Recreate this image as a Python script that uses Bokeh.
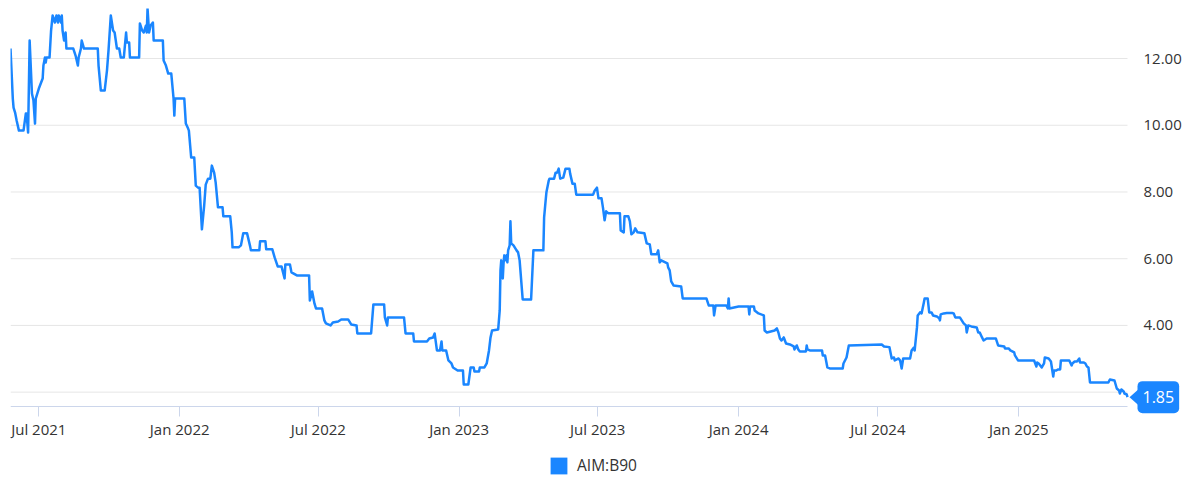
import pandas as pd
from bokeh.plotting import figure
from bokeh.core.properties import value
from bokeh.models import (Range1d, FixedTicker, DatetimeTickFormatter,
                          Legend, LegendItem, Label, PolyAnnotation, ColumnDataSource)
from bokeh.embed import file_html
from bokeh.resources import INLINE

series_name = "AIM:B90"

dates = [
    "2021-05-25", "2021-05-28", "2021-05-29", "2021-05-31", "2021-06-02", "2021-06-05", "2021-06-11", "2021-06-14",
    "2021-06-15", "2021-06-17", "2021-06-19", "2021-06-22", "2021-06-24", "2021-06-26", "2021-06-27", "2021-07-01",
    "2021-07-04", "2021-07-06", "2021-07-07", "2021-07-09", "2021-07-10", "2021-07-11", "2021-07-15", "2021-07-17",
    "2021-07-19", "2021-07-22", "2021-07-24", "2021-07-26", "2021-07-27", "2021-07-30", "2021-07-31", "2021-08-01",
    "2021-08-03", "2021-08-05", "2021-08-06", "2021-08-15", "2021-08-18", "2021-08-21", "2021-08-22", "2021-08-25",
    "2021-08-26", "2021-08-29", "2021-09-16", "2021-09-17", "2021-09-20", "2021-09-25", "2021-09-28", "2021-09-30",
    "2021-10-03", "2021-10-06", "2021-10-08", "2021-10-11", "2021-10-14", "2021-10-16", "2021-10-20", "2021-10-23",
    "2021-10-24", "2021-10-27", "2021-10-28", "2021-11-09", "2021-11-10", "2021-11-13", "2021-11-15", "2021-11-18",
    "2021-11-19", "2021-11-20", "2021-11-22", "2021-11-24", "2021-11-27", "2021-11-28", "2021-12-10", "2021-12-11",
    "2021-12-14", "2021-12-17", "2021-12-21", "2021-12-24", "2021-12-25", "2021-12-26", "2022-01-07", "2022-01-09",
    "2022-01-12", "2022-01-13", "2022-01-16", "2022-01-20", "2022-01-22", "2022-01-25", "2022-01-27", "2022-01-30",
    "2022-02-02", "2022-02-04", "2022-02-07", "2022-02-10", "2022-02-12", "2022-02-15", "2022-02-17", "2022-02-20",
    "2022-02-26", "2022-02-27", "2022-03-08", "2022-03-10", "2022-03-11", "2022-03-19", "2022-03-22", "2022-03-25",
    "2022-03-30", "2022-04-03", "2022-04-04", "2022-04-15", "2022-04-16", "2022-04-23", "2022-04-24", "2022-05-02",
    "2022-05-05", "2022-05-09", "2022-05-14", "2022-05-18", "2022-05-19", "2022-05-25", "2022-05-27", "2022-06-03",
    "2022-06-19", "2022-06-20", "2022-06-23", "2022-06-26", "2022-06-28", "2022-07-06", "2022-07-09", "2022-07-11",
    "2022-07-17", "2022-07-20", "2022-07-27", "2022-07-31", "2022-08-09", "2022-08-13", "2022-08-20", "2022-08-21",
    "2022-09-08", "2022-09-11", "2022-09-25", "2022-09-26", "2022-09-29", "2022-09-30", "2022-10-21", "2022-10-23",
    "2022-11-02", "2022-11-03", "2022-11-20", "2022-11-23", "2022-11-28", "2022-11-30", "2022-12-03", "2022-12-07",
    "2022-12-09", "2022-12-10", "2022-12-15", "2022-12-18", "2022-12-22", "2022-12-24", "2022-12-30", "2023-01-06",
    "2023-01-07", "2023-01-13", "2023-01-16", "2023-01-20", "2023-01-21", "2023-01-27", "2023-01-28", "2023-02-03",
    "2023-02-06", "2023-02-09", "2023-02-11", "2023-02-13", "2023-02-21", "2023-02-23", "2023-02-24", "2023-02-25",
    "2023-02-27", "2023-02-28", "2023-03-01", "2023-03-02", "2023-03-04", "2023-03-05", "2023-03-06", "2023-03-08",
    "2023-03-09", "2023-03-10", "2023-03-13", "2023-03-17", "2023-03-19", "2023-03-21", "2023-03-25", "2023-04-05",
    "2023-04-08", "2023-04-21", "2023-04-22", "2023-04-24", "2023-04-25", "2023-04-28", "2023-04-29", "2023-05-05",
    "2023-05-07", "2023-05-09", "2023-05-11", "2023-05-13", "2023-05-17", "2023-05-20", "2023-05-25", "2023-05-26",
    "2023-05-29", "2023-06-01", "2023-06-03", "2023-06-25", "2023-06-27", "2023-06-30", "2023-07-02", "2023-07-06",
    "2023-07-08", "2023-07-10", "2023-07-12", "2023-07-15", "2023-07-30", "2023-07-31", "2023-08-04", "2023-08-05",
    "2023-08-10", "2023-08-12", "2023-08-14", "2023-08-17", "2023-08-19", "2023-08-22", "2023-08-31", "2023-09-03",
    "2023-09-07", "2023-09-09", "2023-09-16", "2023-09-18", "2023-09-20", "2023-09-22", "2023-09-30", "2023-10-01",
    "2023-10-03", "2023-10-05", "2023-10-08", "2023-10-18", "2023-10-20", "2023-11-20", "2023-11-23", "2023-11-29",
    "2023-11-30", "2023-12-02", "2023-12-16", "2023-12-18", "2023-12-19", "2023-12-20", "2024-01-01", "2024-01-14",
    "2024-01-15", "2024-01-16", "2024-01-21", "2024-01-22", "2024-01-27", "2024-02-03", "2024-02-04", "2024-02-07",
    "2024-02-17", "2024-02-20", "2024-02-22", "2024-02-24", "2024-02-26", "2024-02-29", "2024-03-03", "2024-03-08",
    "2024-03-13", "2024-03-14", "2024-03-17", "2024-03-19", "2024-03-21", "2024-03-29", "2024-03-30", "2024-03-31",
    "2024-04-03", "2024-04-19", "2024-04-20", "2024-04-23", "2024-04-26", "2024-04-29", "2024-05-16", "2024-05-17",
    "2024-05-21", "2024-05-24", "2024-07-06", "2024-07-09", "2024-07-16", "2024-07-19", "2024-07-22", "2024-07-23",
    "2024-07-28", "2024-07-30", "2024-08-01", "2024-08-03", "2024-08-12", "2024-08-14", "2024-08-17", "2024-08-18",
    "2024-08-21", "2024-08-22", "2024-08-25", "2024-08-27", "2024-08-30", "2024-08-31", "2024-09-04", "2024-09-06",
    "2024-09-09", "2024-09-11", "2024-09-16", "2024-09-19", "2024-09-20", "2024-09-21", "2024-09-25", "2024-09-29",
    "2024-10-06", "2024-10-08", "2024-10-10", "2024-10-16", "2024-10-21", "2024-10-24", "2024-10-25", "2024-10-27",
    "2024-10-31", "2024-11-07", "2024-11-09", "2024-11-11", "2024-11-14", "2024-11-16", "2024-11-20", "2024-12-02",
    "2024-12-05", "2024-12-13", "2024-12-14", "2024-12-19", "2024-12-21", "2024-12-26", "2024-12-27", "2024-12-31",
    "2025-01-21", "2025-01-22", "2025-01-24", "2025-01-25", "2025-01-27", "2025-01-29", "2025-01-31", "2025-02-03",
    "2025-02-04", "2025-02-09", "2025-02-12", "2025-02-15", "2025-02-16", "2025-02-19", "2025-02-21", "2025-02-24",
    "2025-02-25", "2025-03-08", "2025-03-11", "2025-03-12", "2025-03-15", "2025-03-18", "2025-03-21", "2025-03-22",
    "2025-03-27", "2025-03-29", "2025-03-31", "2025-04-02", "2025-04-04", "2025-04-28", "2025-04-30", "2025-05-06",
    "2025-05-09", "2025-05-12", "2025-05-13", "2025-05-15", "2025-05-18", "2025-05-19", "2025-05-22", "2025-05-23",
]

prices = [
    12.30, 10.80, 10.53, 10.38, 10.14, 9.84, 9.84, 10.35,
    10.35, 9.78, 12.54, 10.95, 10.74, 10.05, 10.80, 11.10,
    11.28, 11.40, 11.79, 12.03, 11.88, 12.03, 12.03, 12.84,
    13.29, 13.08, 13.29, 13.08, 13.29, 13.08, 13.29, 12.84,
    12.54, 12.78, 12.30, 12.30, 12.09, 11.79, 12.03, 12.30,
    12.54, 12.30, 12.30, 11.79, 11.04, 11.04, 11.64, 12.24,
    13.29, 12.84, 12.78, 12.30, 12.30, 12.03, 12.03, 12.78,
    12.48, 12.48, 12.03, 12.03, 13.05, 12.84, 12.78, 12.99,
    12.78, 13.50, 12.78, 12.99, 13.08, 12.54, 12.54, 11.94,
    11.79, 11.55, 11.55, 10.80, 10.29, 10.80, 10.80, 10.05,
    9.90, 9.84, 9.03, 9.03, 8.19, 8.13, 8.13, 6.88,
    7.60, 8.22, 8.40, 8.40, 8.79, 8.58, 8.28, 7.54,
    7.54, 7.27, 7.27, 6.79, 6.34, 6.34, 6.40, 6.76,
    6.76, 6.37, 6.25, 6.25, 6.52, 6.52, 6.28, 6.28,
    6.04, 5.77, 5.77, 5.41, 5.83, 5.83, 5.59, 5.50,
    5.50, 4.75, 5.02, 4.66, 4.51, 4.51, 4.15, 4.06,
    4.00, 4.09, 4.12, 4.18, 4.18, 4.03, 4.00, 3.76,
    3.76, 4.63, 4.63, 4.24, 4.00, 4.24, 4.24, 3.76,
    3.76, 3.52, 3.52, 3.61, 3.64, 3.76, 3.25, 3.25,
    3.52, 3.25, 3.25, 2.95, 2.86, 2.74, 2.65, 2.65,
    2.23, 2.23, 2.74, 2.74, 2.62, 2.62, 2.74, 2.74,
    2.86, 3.25, 3.64, 3.85, 3.88, 4.45, 5.65, 5.95,
    5.41, 5.86, 6.10, 5.95, 6.10, 5.89, 6.25, 6.40,
    7.12, 6.46, 6.40, 6.25, 6.19, 5.95, 4.78, 4.78,
    6.25, 6.25, 7.24, 7.75, 7.99, 8.34, 8.40, 8.40,
    8.58, 8.58, 8.70, 8.40, 8.43, 8.70, 8.70, 8.55,
    8.25, 8.25, 7.92, 7.92, 8.04, 8.13, 7.81, 7.81,
    7.51, 7.15, 7.42, 7.36, 7.36, 6.85, 6.79, 7.27,
    7.27, 7.12, 6.73, 6.79, 6.91, 6.79, 6.76, 6.46,
    6.43, 6.13, 6.13, 6.25, 5.89, 5.95, 5.86, 5.74,
    5.65, 5.32, 5.20, 5.17, 4.81, 4.81, 4.60, 4.60,
    4.30, 4.60, 4.60, 4.51, 4.81, 4.51, 4.57, 4.57,
    4.33, 4.57, 4.57, 4.45, 4.36, 4.30, 3.85, 3.79,
    3.85, 3.91, 3.79, 3.61, 3.55, 3.64, 3.46, 3.43,
    3.37, 3.28, 3.40, 3.28, 3.22, 3.22, 3.40, 3.28,
    3.25, 3.25, 3.10, 3.10, 2.74, 2.71, 2.71, 2.86,
    3.04, 3.40, 3.43, 3.37, 3.35, 3.01, 3.04, 2.95,
    3.01, 2.95, 2.71, 3.01, 3.01, 3.25, 3.34, 3.25,
    3.94, 4.30, 4.39, 4.36, 4.69, 4.81, 4.81, 4.39,
    4.39, 4.30, 4.27, 4.21, 4.15, 4.33, 4.36, 4.37,
    4.37, 4.36, 4.24, 4.24, 4.06, 4.00, 3.79, 4.00,
    3.97, 3.94, 3.79, 3.79, 3.64, 3.55, 3.61, 3.61,
    3.40, 3.37, 3.31, 3.31, 3.25, 3.19, 3.10, 2.95,
    2.95, 2.89, 2.77, 2.89, 2.86, 2.80, 2.74, 2.86,
    3.04, 3.01, 2.92, 2.47, 2.65, 2.65, 2.68, 2.68,
    2.95, 2.95, 2.80, 2.86, 2.92, 2.92, 3.01, 2.89,
    2.89, 2.86, 2.77, 2.74, 2.29, 2.29, 2.38, 2.35,
    2.11, 2.05, 1.96, 2.08, 2.02, 1.96, 1.93, 1.85,
]

x_tick_dates = ["2021-07-01", "2022-01-01", "2022-07-01", "2023-01-01",
                "2023-07-01", "2024-01-01", "2024-07-01", "2025-01-01"]
y_tick_values = [4, 6, 8, 10, 12]
y_tick_labels = ["4.00", "6.00", "8.00", "10.00", "12.00"]
y_grid_values = [2, 4, 6, 8, 10, 12]
y_axis_at, y_max = 1.57, 13.50      # value at the x-axis line, value at the top edge

BLUE = "#1a86ff"
TEXT = "#333333"
GRID = "#e6e6e6"
FONT = "Open Sans"

dt = pd.to_datetime(dates)
src = ColumnDataSource(dict(x=dt, y=prices))

# layout (pixels)
FIG_W, FIG_H = 1186, 477
TOP, LEFT = 8, 10
PLOT_W, PLOT_H = 1117, 398            # data area: from left edge to last date, top to x-axis line
FRAME_W, FRAME_H = FIG_W - LEFT, FIG_H - TOP

span = dt[-1] - dt[0]
x_end = dt[0] + span * (FRAME_W / PLOT_W)
y_min = y_max - (y_max - y_axis_at) * FRAME_H / PLOT_H

p = figure(width=FIG_W, height=FIG_H, x_axis_type="datetime", y_axis_location=None,
           x_range=Range1d(dt[0], x_end), y_range=Range1d(y_min, y_max),
           output_backend="svg", toolbar_location=None,
           min_border_left=LEFT, min_border_right=0, min_border_top=TOP, min_border_bottom=0,
           background_fill_color="white", border_fill_color="white")
p.outline_line_color = None
p.grid.visible = False

# horizontal grid lines over the data area only
n = len(y_grid_values)
p.segment(x0=[dt[0]] * n, x1=[dt[-1]] * n, y0=y_grid_values, y1=y_grid_values,
          line_color=GRID, line_width=1)

# price series
line = p.line("x", "y", source=src, line_width=2.5, line_color=BLUE, line_join="round")

# price labels on the right
m = len(y_tick_values)
p.text(x=[dt[-1]] * m, y=y_tick_values, text=y_tick_labels, x_offset=16,
       text_align="left", text_baseline="middle", text_font=value(FONT),
       text_font_size="15px", text_color=TEXT)

# x axis, drawn at the bottom of the data area
xa = p.xaxis[0]
xa.fixed_location = y_axis_at
xa.ticker = FixedTicker(ticks=[pd.Timestamp(d).value // 10**6 for d in x_tick_dates])
fmt = "%b %Y"
xa.formatter = DatetimeTickFormatter(years=fmt, months=fmt, days=fmt, hours=fmt,
                                     minutes=fmt, seconds=fmt, milliseconds=fmt, hourmin=fmt,
                                     minsec=fmt)
xa.bounds = (dt[0], dt[-1])
xa.axis_line_color = "#ccd6eb"
xa.major_tick_line_color = "#ccd6eb"
xa.major_tick_out = 10
xa.major_tick_in = 0
xa.minor_tick_line_color = None
xa.major_label_text_font = FONT
xa.major_label_text_font_size = "15px"
xa.major_label_text_color = TEXT
xa.major_label_standoff = 2

# last value badge
last_x = dt[-1]
last_y = prices[-1]
last_ms = last_x.value // 10**6
px_ms = span.value / 10**6 / PLOT_W
px_val = (y_max - y_axis_at) / PLOT_H
arrow = PolyAnnotation(xs=[last_ms + 2 * px_ms, last_ms + 11 * px_ms, last_ms + 11 * px_ms],
                       ys=[last_y, last_y + 8 * px_val, last_y - 8 * px_val],
                       fill_color=BLUE, fill_alpha=1, line_color=None)
p.add_layout(arrow)
badge = Label(x=last_x, y=last_y, x_offset=10, text=f"{last_y:.2f}",
              text_color="white", text_font=FONT, text_font_size="16px",
              text_align="left", text_baseline="middle",
              background_fill_color=BLUE, background_fill_alpha=1,
              border_radius=5, padding=dict(left=5, right=5, top=10, bottom=10))
p.add_layout(badge)

# legend (square marker) centred below the axis labels
nan = float("nan")
dummy = p.quad(left=[nan], right=[nan], top=[nan], bottom=[nan], fill_color=BLUE, line_color=None)
legend = Legend(items=[LegendItem(label=series_name, renderers=[dummy])],
                location=(538, 1), orientation="horizontal",
                glyph_width=21, glyph_height=21, label_standoff=8,
                label_text_font=FONT, label_text_font_size="15.5px", label_text_color=TEXT,
                border_line_color=None, background_fill_alpha=0, padding=4, margin=0)
p.add_layout(legend)

open("out.html", "w").write(file_html(p, INLINE))
